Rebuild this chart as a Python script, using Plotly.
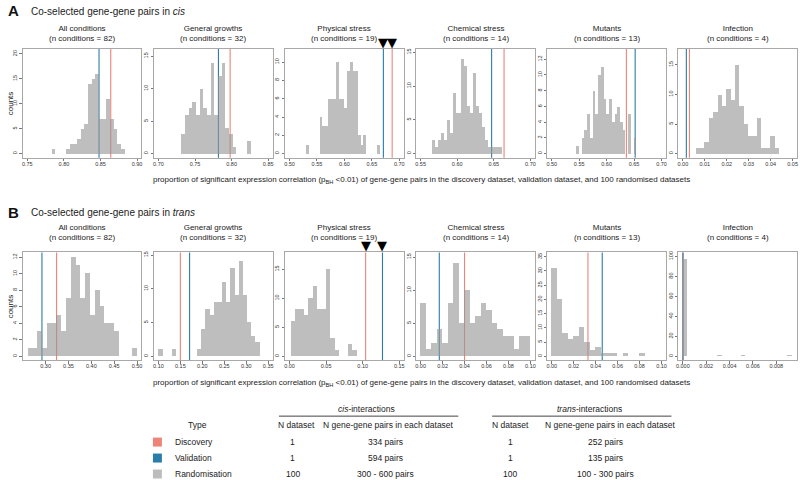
import plotly.graph_objects as go

# ---------------- data ----------------
panel_names = ["All conditions", "General growths", "Physical stress",
               "Chemical stress", "Mutants", "Infection"]
n_conditions = [82, 32, 19, 14, 13, 4]

# cis: histogram of 100 randomised datasets (bin left edge, count)
cis_all_left = [0.783, 0.803, 0.808, 0.813, 0.818, 0.823, 0.828, 0.833, 0.838,
                0.843, 0.848, 0.853, 0.858, 0.863, 0.868, 0.873, 0.878]
cis_all_count = [1, 1, 2, 2, 3, 5, 6, 14, 15, 16, 7, 7, 11, 7, 5, 2, 1]

cis_growth_left = [0.7315, 0.7365, 0.7415, 0.7465, 0.7515, 0.7565, 0.7615, 0.7665,
                   0.7715, 0.7765, 0.7815, 0.7865, 0.7915, 0.7965, 0.8015, 0.8215]
cis_growth_count = [3, 6, 7, 8, 6, 10, 7, 6, 14, 6, 12, 14, 4, 3, 1, 2]

cis_physical_left = [0.530, 0.555, 0.560, 0.565, 0.570, 0.575, 0.580, 0.585, 0.590, 0.595,
                     0.600, 0.605, 0.610, 0.615, 0.620, 0.625, 0.630, 0.635, 0.660]
cis_physical_count = [1, 4, 3, 3, 6, 6, 6, 10, 6, 6, 5, 9, 10, 9, 9, 2, 1, 2, 1]

cis_chemical_left = [0.566, 0.570, 0.574, 0.578, 0.582, 0.586, 0.590, 0.594, 0.598, 0.602,
                     0.606, 0.610, 0.614, 0.618, 0.622, 0.626, 0.630, 0.634, 0.638, 0.642,
                     0.646, 0.650, 0.654, 0.658]
cis_chemical_count = [2, 1, 2, 3, 2, 5, 3, 9, 6, 6, 14, 13, 7, 6, 12, 7, 6, 4, 2, 1,
                      1, 1, 1, 1]

cis_mutants_left = [0.545, 0.555, 0.560, 0.565, 0.570, 0.575, 0.580, 0.585, 0.590, 0.595,
                    0.600, 0.605, 0.610, 0.615, 0.620, 0.625, 0.630, 0.640, 0.650]
cis_mutants_count = [1, 2, 3, 5, 2, 8, 5, 10, 11, 7, 5, 7, 4, 5, 6, 4, 3, 5, 2]

cis_infection_left = [0.006, 0.008, 0.010, 0.012, 0.014, 0.016, 0.018, 0.020, 0.022, 0.024,
                      0.026, 0.028, 0.030, 0.032, 0.034, 0.036, 0.038, 0.040, 0.042]
cis_infection_count = [1, 1, 2, 6, 7, 10, 8, 11, 9, 15, 8, 5, 3, 3, 6, 1, 1, 3, 1]

cis_bin_width = [0.005, 0.005, 0.005, 0.004, 0.005, 0.002]
cis_discovery = [0.864, 0.798, 0.687, 0.664, 0.636, 0.0030]
cis_validation = [0.848, 0.782, 0.671, 0.647, 0.652, 0.0016]
cis_xlim = [[0.75, 0.90], [0.70, 0.85], [0.50, 0.70], [0.55, 0.70], [0.50, 0.70], [0.00, 0.05]]
cis_xstep = [0.05, 0.05, 0.05, 0.05, 0.05, 0.01]
cis_ymax = [20.2, 15.5, 11, 14.9, 12.8, 17]
cis_ystep = [5, 5, 2, 5, 2, 5]

# trans
trans_all_left = [0.2605, 0.271, 0.2815, 0.292, 0.3025, 0.313, 0.3235, 0.334, 0.3445, 0.355,
                  0.3655, 0.376, 0.3865, 0.397, 0.4075, 0.418, 0.4285, 0.439, 0.4495, 0.4895]
trans_all_count = [1, 1, 3, 1, 4, 4, 5, 3, 7, 12, 11, 7, 10, 5, 8, 6, 4, 4, 3, 1]

trans_growth_left = [0.100, 0.130, 0.188, 0.1975, 0.207, 0.2165, 0.226, 0.2355, 0.245,
                     0.2545, 0.264, 0.2735, 0.283, 0.2925, 0.302, 0.3115, 0.321]
trans_growth_count = [1, 1, 1, 4, 7, 6, 8, 8, 11, 8, 13, 9, 14, 9, 5, 3, 2]

trans_physical_left = [0.002, 0.008, 0.014, 0.020, 0.026, 0.032, 0.038, 0.044, 0.050,
                       0.056, 0.062, 0.080, 0.086]
trans_physical_count = [6, 8, 8, 7, 10, 12, 8, 8, 15, 3, 1, 2, 1]

trans_chemical_left = [0.000, 0.005, 0.010, 0.015, 0.020, 0.025, 0.030, 0.035, 0.040, 0.045,
                       0.050, 0.055, 0.060, 0.065, 0.070, 0.075, 0.080, 0.085, 0.090, 0.095]
trans_chemical_count = [8, 1, 2, 4, 2, 8, 14, 5, 10, 5, 6, 8, 7, 5, 4, 3, 3, 1, 3, 3]

trans_mutants_left = [0.000, 0.005, 0.010, 0.015, 0.020, 0.025, 0.030, 0.035, 0.040,
                      0.045, 0.050, 0.055, 0.065, 0.080]
trans_mutants_count = [31, 20, 8, 6, 7, 10, 5, 2, 3, 1, 1, 1, 1, 1]

trans_infection_left = [0.0000, 0.0030, 0.0050, 0.0090]
trans_infection_count = [97, 1, 1, 1]

trans_bin_width = [0.0105, 0.0095, 0.006, 0.005, 0.005, 0.0004]
trans_discovery = [0.324, 0.150, 0.104, 0.040, 0.033, 0.00003]
trans_validation = [0.292, 0.171, 0.127, 0.017, 0.046, 0.0]
trans_xlim = [[0.26, 0.50], [0.10, 0.35], [0.00, 0.15], [0.00, 0.10], [0.00, 0.10], [0.0, 0.0094]]
trans_xstep = [0.05, 0.05, 0.05, 0.02, 0.02, 0.002]
trans_ymax = [12.1, 14.8, 17.2, 15.1, 35.1, 100]
trans_ystep = [2, 5, 5, 5, 5, 20]

marked_panel = 2  # physical stress gets the black triangles

# legend table
legend_types = ["Discovery", "Validation", "Randomisation"]
cis_n_dataset = ["1", "1", "100"]
cis_n_pairs = ["334 pairs", "594 pairs", "300 - 600 pairs"]
trans_n_dataset = ["1", "1", "100"]
trans_n_pairs = ["252 pairs", "135 pairs", "100 - 300 pairs"]

RED = "#EE8378"
BLUE = "#2A7DA8"
GREY = "rgba(150,150,150,0.62)"
FONT = "Liberation Sans, Arial, sans-serif"

# ---------------- layout helpers ----------------
W, H = 800, 480
BOX_LEFT = [21 + 131.6 * i for i in range(6)]
BOX_W = 119


def fx(x):
    return x / W


def fy(y):
    return 1 - y / H


rows = [
    dict(lefts=[cis_all_left, cis_growth_left, cis_physical_left, cis_chemical_left,
                cis_mutants_left, cis_infection_left],
         counts=[cis_all_count, cis_growth_count, cis_physical_count, cis_chemical_count,
                 cis_mutants_count, cis_infection_count],
         width=cis_bin_width, disc=cis_discovery, val=cis_validation, xlim=cis_xlim,
         xstep=cis_xstep, ymax=cis_ymax, ystep=cis_ystep,
         label="A", title="Co-selected gene-gene pairs in <i>cis</i>",
         top=48, bottom=157, label_y=10, sub_y=33, xtitle_y=179),
    dict(lefts=[trans_all_left, trans_growth_left, trans_physical_left, trans_chemical_left,
                trans_mutants_left, trans_infection_left],
         counts=[trans_all_count, trans_growth_count, trans_physical_count,
                 trans_chemical_count, trans_mutants_count, trans_infection_count],
         width=trans_bin_width, disc=trans_discovery, val=trans_validation, xlim=trans_xlim,
         xstep=trans_xstep, ymax=trans_ymax, ystep=trans_ystep,
         label="B", title="Co-selected gene-gene pairs in <i>trans</i>",
         top=252, bottom=360, label_y=211.5, sub_y=232, xtitle_y=383),
]

fig = go.Figure()
shapes = []
annotations = []
axis_layout = {}

for r, row in enumerate(rows):
    for i in range(6):
        n = r * 6 + i + 1
        xa = "x" if n == 1 else f"x{n}"
        ya = "y" if n == 1 else f"y{n}"
        w = row["width"][i]
        lo, hi = row["xlim"][i]
        pad = 0.04 * (hi - lo)
        ymax = row["ymax"][i]
        yr = [-0.04 * ymax, 1.04 * ymax]

        fig.add_trace(go.Bar(
            x=[v + w / 2 for v in row["lefts"][i]], y=row["counts"][i], width=w,
            marker=dict(color=GREY, line=dict(width=0)),
            xaxis=xa, yaxis=ya, showlegend=False, hoverinfo="skip"))

        for val, col in [(row["disc"][i], RED), (row["val"][i], BLUE)]:
            shapes.append(dict(type="line", xref=xa, yref=f"{ya} domain",
                               x0=val, x1=val, y0=0, y1=1, layer="below",
                               line=dict(color=col, width=1.1)))

        if i == marked_panel:
            for val in (row["val"][i], row["disc"][i]):
                annotations.append(dict(
                    text="\u25BC", xref=xa, yref=f"{ya} domain", x=val, y=1,
                    xanchor="center", yanchor="bottom", yshift=-3, showarrow=False,
                    font=dict(size=13, color="black", family="DejaVu Sans")))

        left = BOX_LEFT[i]
        axis_common = dict(showgrid=False, zeroline=False, showline=True, mirror=True,
                           linecolor="#a8a8a8", linewidth=1, ticks="outside", ticklen=2.5,
                           tickcolor="#777", tickwidth=0.8,
                           tickfont=dict(size=5.5, color="#333", family=FONT))
        axis_layout["xaxis" if n == 1 else f"xaxis{n}"] = dict(
            axis_common, domain=[fx(left), fx(left + BOX_W)], anchor=ya,
            range=[lo - pad, hi + pad], tick0=0, dtick=row["xstep"][i],
            ticklabelstandoff=-2,
            tickformat=".3f" if row["xstep"][i] < 0.01 else ".2f")
        axis_layout["yaxis" if n == 1 else f"yaxis{n}"] = dict(
            axis_common, domain=[fy(row["bottom"]), fy(row["top"])], anchor=xa,
            range=yr, tick0=0, dtick=row["ystep"][i], tickangle=-90)

        annotations.append(dict(
            text=f"{panel_names[i]}<br>(n conditions = {n_conditions[i]})",
            xref="paper", yref="paper", x=fx(left + BOX_W / 2), y=fy(row["sub_y"]),
            xanchor="center", yanchor="middle", showarrow=False,
            font=dict(size=8, color="#222", family=FONT)))

    annotations.append(dict(text=f"<b>{row['label']}</b>", xref="paper", yref="paper",
                            x=fx(4), y=fy(row["label_y"]), xanchor="left", yanchor="middle",
                            showarrow=False, font=dict(size=15, color="#111", family=FONT)))
    annotations.append(dict(text=row["title"], xref="paper", yref="paper",
                            x=fx(27), y=fy(row["label_y"] + 0.5), xanchor="left",
                            yanchor="middle", showarrow=False,
                            font=dict(size=10, color="#222", family=FONT)))
    annotations.append(dict(text="counts", xref="paper", yref="paper", textangle=-90,
                            x=fx(8), y=fy((row["top"] + row["bottom"]) / 2),
                            xanchor="center", yanchor="middle", showarrow=False,
                            font=dict(size=8, color="#222", family=FONT)))
    annotations.append(dict(
        text="proportion of significant expression correlation (p<sub>BH</sub> &lt;0.01) of "
             "gene-gene pairs in the discovery dataset, validation dataset, and 100 randomised datasets",
        xref="paper", yref="paper", x=fx(421), y=fy(row["xtitle_y"]),
        xanchor="center", yanchor="middle", showarrow=False,
        font=dict(size=8, color="#222", family=FONT)))

# ---------------- legend table ----------------
tfont = dict(size=8.5, color="#222", family=FONT)


def text_at(txt, x, y, anchor="center", font=tfont):
    annotations.append(dict(text=txt, xref="paper", yref="paper", x=fx(x), y=fy(y),
                            xanchor=anchor, yanchor="middle", showarrow=False, font=font))


text_at("<i>cis</i>-interactions", 366, 409)
text_at("<i>trans</i>-interactions", 590, 409)
for x0, x1 in [(278, 458), (492, 672)]:
    shapes.append(dict(type="line", xref="paper", yref="paper", x0=fx(x0), x1=fx(x1),
                       y0=fy(416), y1=fy(416), line=dict(color="#444", width=1)))
text_at("Type", 185, 425, anchor="left")
text_at("N dataset", 296, 425)
text_at("N gene-gene pairs in each dataset", 388, 425)
text_at("N dataset", 510, 425)
text_at("N gene-gene pairs in each dataset", 611, 425)

row_y = [442, 458, 474]
swatch = [RED, BLUE, "#bdbdbd"]
for k in range(3):
    y = row_y[k]
    shapes.append(dict(type="rect", xref="paper", yref="paper", x0=fx(151.5), x1=fx(160.5),
                       y0=fy(y + 4.5), y1=fy(y - 4.5), fillcolor=swatch[k],
                       line=dict(width=0)))
    text_at(legend_types[k], 172, y, anchor="left")
    text_at(cis_n_dataset[k], 292, y)
    text_at(cis_n_pairs[k], 385, y)
    text_at(trans_n_dataset[k], 510, y)
    text_at(trans_n_pairs[k], 606, y)

fig.update_layout(
    width=W, height=H, margin=dict(l=0, r=0, t=0, b=0),
    paper_bgcolor="white", plot_bgcolor="white",
    font=dict(family=FONT, color="#222"),
    shapes=shapes, annotations=annotations, bargap=0,
    **axis_layout)

fig.write_html("out.html", config={"displayModeBar": False},
               post_script="document.body.style.margin='0';")
